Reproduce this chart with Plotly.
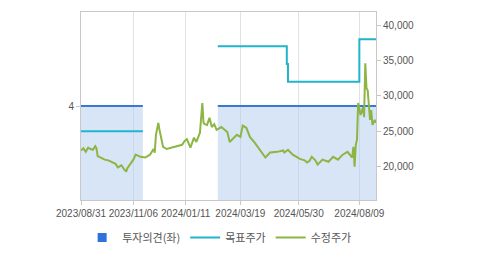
import plotly.graph_objects as go

# ---- data ----
tick_idx = [0, 44, 88, 134, 183, 234]
tick_labels = ["2023/08/31", "2023/11/06", "2024/01/11", "2024/03/19", "2024/05/30", "2024/08/09"]

# investment opinion periods (start idx, end idx, value)
opinion_start = [0, 115]
opinion_end = [52, 248]
opinion_val = [4, 4]

target_x = [0, 52, 53, 115, 172, 173, 174, 233, 234, 248]
target_y = [25000, 25000, None, 37000, 37000, 34500, 32000, 32000, 38000, 38000]

price_x = [0, 2, 4, 6, 8, 10, 12, 13, 14, 18, 20, 23, 25, 29, 31, 34, 36, 38, 39, 42, 44, 46, 50, 54, 58,
           61, 62, 63, 65, 66, 69, 72, 76, 79, 82, 85, 87, 89, 92, 95, 97, 100, 102, 103, 104, 106, 108,
           110, 112, 114, 118, 123, 125, 129, 131, 134, 136, 139, 142, 146, 150, 155, 159, 165, 170, 171,
           174, 178, 184, 188, 190, 192, 194, 197, 199, 203, 208, 212, 216, 220, 224, 228, 229, 230, 231,
           232, 233, 235, 237, 238, 239, 240, 241, 243, 244, 245, 247, 248]
price_y = [22300, 22600, 22100, 22700, 22500, 22400, 22900, 22600, 21500, 21200, 21000, 20900, 20700, 20400,
           19900, 20200, 19700, 19300, 19800, 20550, 21000, 21700, 21400, 21300, 21700,
           22500, 22000, 24500, 26200, 25200, 22800, 22500, 22700, 22800, 22900, 23100, 23600, 23900, 22700,
           24100, 23500, 24800, 29000, 26200, 26000, 25900, 26900,
           25600, 26000, 25200, 25600, 24900, 23500, 24200, 24500, 24200, 25800, 25500, 24200, 23400, 22400,
           21300, 22000, 22100, 22300, 22000,
           22400, 21700, 21100, 20900, 20600, 20800, 21400, 20900, 20300, 21000, 20700, 21400, 21000, 21700,
           22100, 21300, 22800, 20000, 23100,
           23800, 29000, 27300, 28400, 27000, 34600, 31100, 30800, 26600, 28000, 25900, 26600, 26200]

C_OPN = "#3b78d6"
C_FILL = "rgba(178,204,240,0.5)"
C_TGT = "#22b4cb"
C_PRC = "#8cb543"
FONT = "Noto Sans CJK KR, sans-serif"
TFONT = "Liberation Sans, Arial, sans-serif"

fig = go.Figure()
for s, e, v in zip(opinion_start, opinion_end, opinion_val):
    fig.add_trace(go.Scatter(x=[s, e], y=[v, v], mode="lines", line=dict(color=C_OPN, width=2),
                             fill="tozeroy", fillcolor=C_FILL, showlegend=False, yaxis="y",
                             hoverinfo="skip"))
fig.add_trace(go.Scatter(x=[None], y=[None], mode="markers", name="투자의견(좌)",
                         marker=dict(symbol="square", size=9, color="#2f72dc"), yaxis="y"))
fig.add_trace(go.Scatter(x=target_x, y=target_y, mode="lines", name="목표주가", line_shape="hv",
                         line=dict(color=C_TGT, width=2), yaxis="y2"))
fig.add_trace(go.Scatter(x=price_x, y=price_y, mode="lines", name="수정주가",
                         line=dict(color=C_PRC, width=2), yaxis="y2"))

tf = dict(size=10, color="#555", family=TFONT)
fig.update_layout(
    width=479, height=254,
    margin=dict(l=81, r=103, t=12, b=54, autoexpand=False),
    paper_bgcolor="white", plot_bgcolor="white",
    font=dict(family=FONT, size=11, color="#555"),
    xaxis=dict(range=[0, 248], tickvals=tick_idx, ticktext=tick_labels, tickangle=0, showgrid=True,
               gridcolor="#e2e2e2", gridwidth=1, zeroline=False, showline=True, linecolor="#c8c8c8",
               mirror=True, ticks="outside", ticklen=4, tickcolor="#c8c8c8", tickfont=tf),
    yaxis=dict(range=[0, 8], tickvals=[4], ticktext=["4"], showgrid=False, zeroline=False,
               showline=True, linecolor="#c8c8c8", ticks="outside", ticklen=4, tickcolor="#c8c8c8",
               tickfont=tf),
    yaxis2=dict(range=[15300, 41850], overlaying="y", side="right", tickvals=[20000, 25000, 30000, 35000, 40000],
                tickformat=",d", showgrid=False, zeroline=False, showline=True, linecolor="#c8c8c8",
                ticks="outside", ticklen=4, tickcolor="#c8c8c8", tickfont=tf),
    legend=dict(orientation="h", x=0.47, xanchor="center", y=0.065, yanchor="middle", yref="container",
                font=dict(size=11, color="#555", family=FONT), itemwidth=30),
    showlegend=True,
)

fig.write_html("out.html")
